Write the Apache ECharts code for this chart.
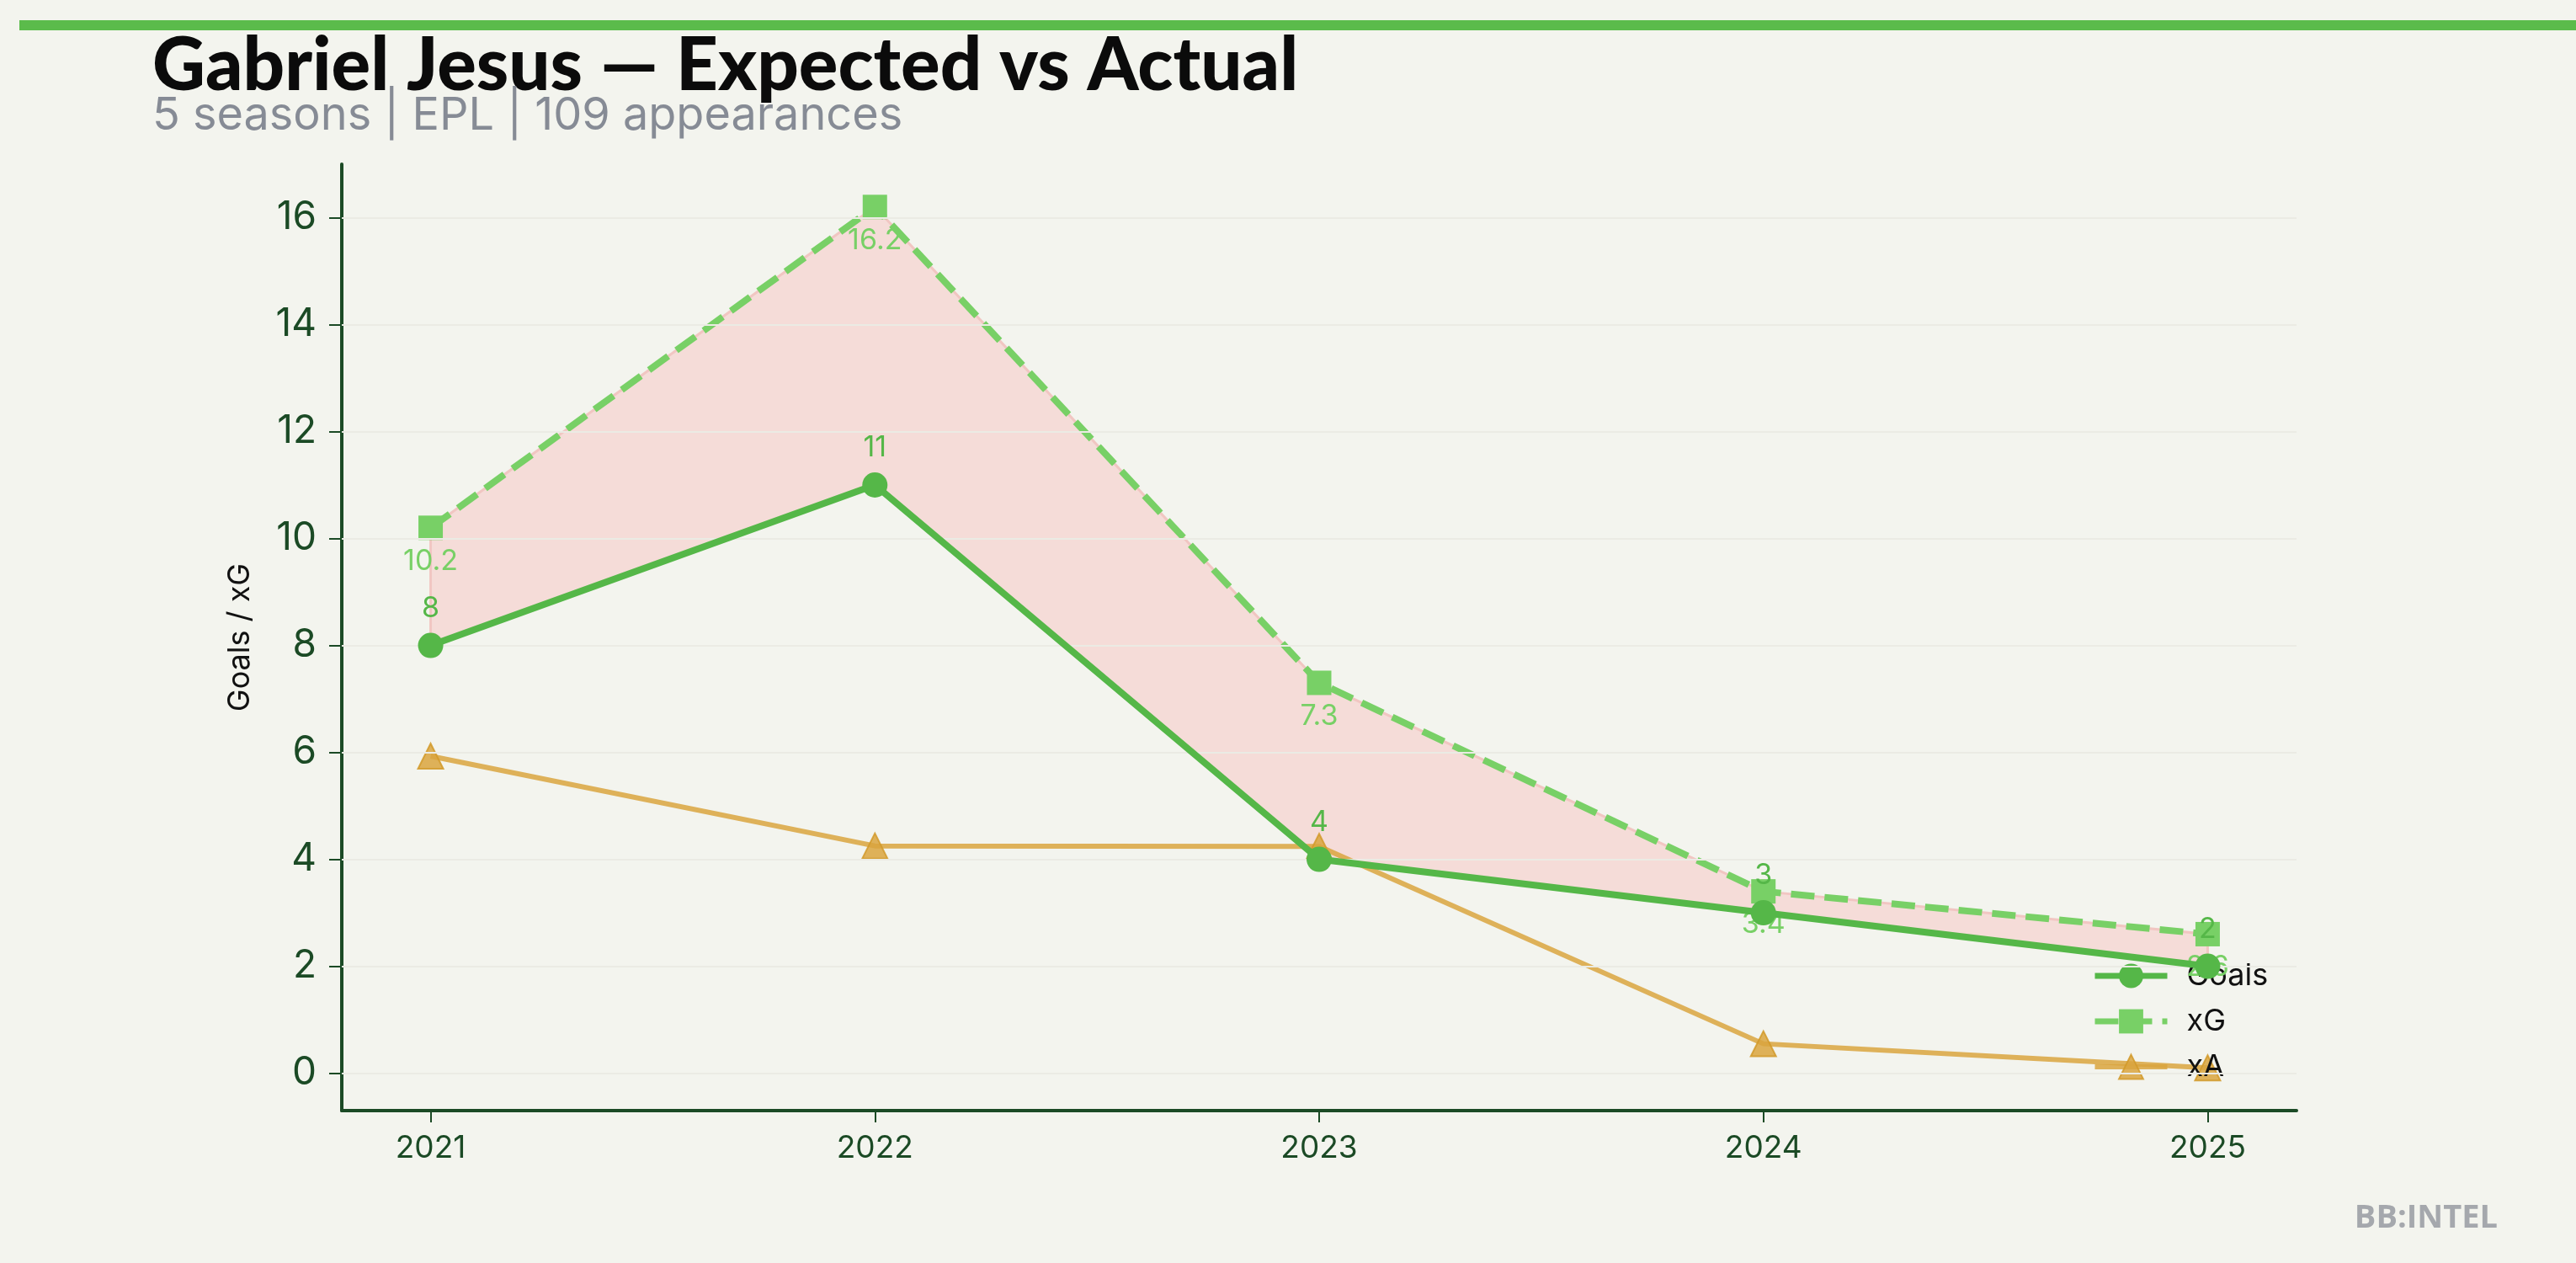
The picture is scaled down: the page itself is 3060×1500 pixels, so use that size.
<!DOCTYPE html>
<html>
<head>
<meta charset="utf-8">
<script src="https://cdn.jsdelivr.net/npm/echarts@6/dist/echarts.min.js"></script>
<style>
html,body{margin:0;padding:0;background:#f3f4ee;}
#chart{width:3060px;height:1500px;}
</style>
</head>
<body>
<div id="chart"></div>
<script>
const seasons = [2021, 2022, 2023, 2024, 2025];
const goals = [8, 11, 4, 3, 2];
const xG = [10.2, 16.2, 7.3, 3.4, 2.6];
const xA = [5.93, 4.25, 4.24, 0.55, 0.1];
const yTicks = [0, 2, 4, 6, 8, 10, 12, 14, 16];
const titleText = 'Gabriel Jesus \u2014 Expected vs Actual';
const subtitleText = '5 seasons | EPL | 109 appearances';

const cGoals = '#55b748';
const cXG = '#78d066';
const cXA = '#d9a43e';
const axisColor = '#1b4a25';

const pairs = arr => arr.map((v, i) => [seasons[i], v]);

function renderBand(params, api) {
  const top = seasons.map((s, i) => api.coord([s, xG[i]]));
  const bottom = seasons.map((s, i) => api.coord([s, goals[i]])).reverse();
  return {
    type: 'polygon',
    shape: {points: top.concat(bottom)},
    style: {fill: '#f5dcd8', stroke: '#f1c6c2', lineWidth: 3},
    silent: true
  };
}

const chart = echarts.init(document.getElementById('chart'), null, {renderer: 'canvas'});
chart.setOption({
  backgroundColor: '#f3f4ee',
  animation: false,
  title: [
    {
      text: titleText,
      left: 176,
      top: 30,
      textStyle: {fontFamily: 'Lato', fontWeight: 900, fontSize: 87, color: '#0b0b0b'}
    },
    {
      text: subtitleText,
      left: 176,
      top: 106,
      textStyle: {fontFamily: 'Inter', fontWeight: 400, fontSize: 54, color: '#868b95'}
    }
  ],
  graphic: [
    {type: 'rect', shape: {x: 23, y: 24, width: 3037, height: 12}, style: {fill: '#5bbb4b'}, silent: true},
    {type: 'text', right: 93, top: 1428, style: {text: 'BB:INTEL', fontFamily: 'Open Sans', fontWeight: 700, fontSize: 38, fill: '#a5a8ad'}, silent: true}
  ],
  grid: {left: 406, right: 332, top: 195, bottom: 181, containLabel: false, outerBoundsMode: 'none'},
  legend: {
    orient: 'vertical',
    left: 2480,
    top: 1136,
    itemWidth: 86,
    itemHeight: 36,
    itemGap: 18,
    data: [
      {name: 'Goals', lineStyle: {width: 7}},
      {name: 'xG', lineStyle: {width: 7}},
      {name: 'xA', lineStyle: {width: 6}}
    ],
    textStyle: {fontFamily: 'Inter', fontSize: 36, color: '#111', lineHeight: 36, padding: [0, 0, 0, 18]}
  },
  xAxis: {
    type: 'value',
    min: 2020.8,
    max: 2025.2,
    splitLine: {show: false},
    axisLine: {show: true, onZero: false, lineStyle: {color: axisColor, width: 4}},
    axisTick: {show: true, customValues: seasons, length: 14, lineStyle: {color: axisColor, width: 2}},
    axisLabel: {customValues: seasons, formatter: v => String(v), fontFamily: 'Inter', fontSize: 37, color: axisColor, margin: 26}
  },
  yAxis: {
    type: 'value',
    min: -0.7,
    max: 17,
    name: 'Goals / xG',
    nameLocation: 'middle',
    nameRotate: 90,
    nameGap: 103,
    nameTextStyle: {fontFamily: 'Inter', fontSize: 36, color: '#111'},
    splitLine: {show: false},
    axisLine: {show: true, onZero: false, lineStyle: {color: axisColor, width: 4}},
    axisTick: {show: true, customValues: yTicks, length: 15, lineStyle: {color: axisColor, width: 2}},
    axisLabel: {customValues: yTicks, fontFamily: 'Inter', fontSize: 46, color: axisColor, margin: 30}
  },
  series: [
    {
      name: 'grid', type: 'line', data: [], silent: true,
      markLine: {
        silent: true, symbol: 'none', label: {show: false},
        lineStyle: {color: '#ebebe4', width: 2, type: 'solid'},
        data: yTicks.map(v => ({yAxis: v}))
      }
    },
    {
      name: 'band', type: 'custom', data: [[seasons[0], xG[0]]], z: 1,
      renderItem: renderBand, silent: true
    },
    {
      name: 'xA', type: 'line', data: pairs(xA), z: 3,
      symbol: 'triangle', symbolSize: 30,
      lineStyle: {color: cXA, width: 6, opacity: 0.85},
      itemStyle: {color: cXA, opacity: 0.85, borderColor: '#d29a2a', borderWidth: 2}
    },
    {
      name: 'xG', type: 'line', data: pairs(xG), z: 4,
      symbol: 'rect', symbolSize: 29,
      lineStyle: {color: cXG, width: 8, type: [28, 12]},
      itemStyle: {color: cXG},
      label: {show: true, position: 'bottom', distance: 8, color: cXG, fontFamily: 'Inter', fontSize: 34, formatter: p => String(xG[p.dataIndex])}
    },
    {
      name: 'Goals', type: 'line', data: pairs(goals), z: 5,
      symbol: 'circle', symbolSize: 30,
      lineStyle: {color: cGoals, width: 8},
      itemStyle: {color: cGoals},
      label: {show: true, position: 'top', distance: 12, color: cGoals, fontFamily: 'Inter', fontSize: 34, formatter: p => String(goals[p.dataIndex])}
    }
  ]
});
</script>
</body>
</html>
